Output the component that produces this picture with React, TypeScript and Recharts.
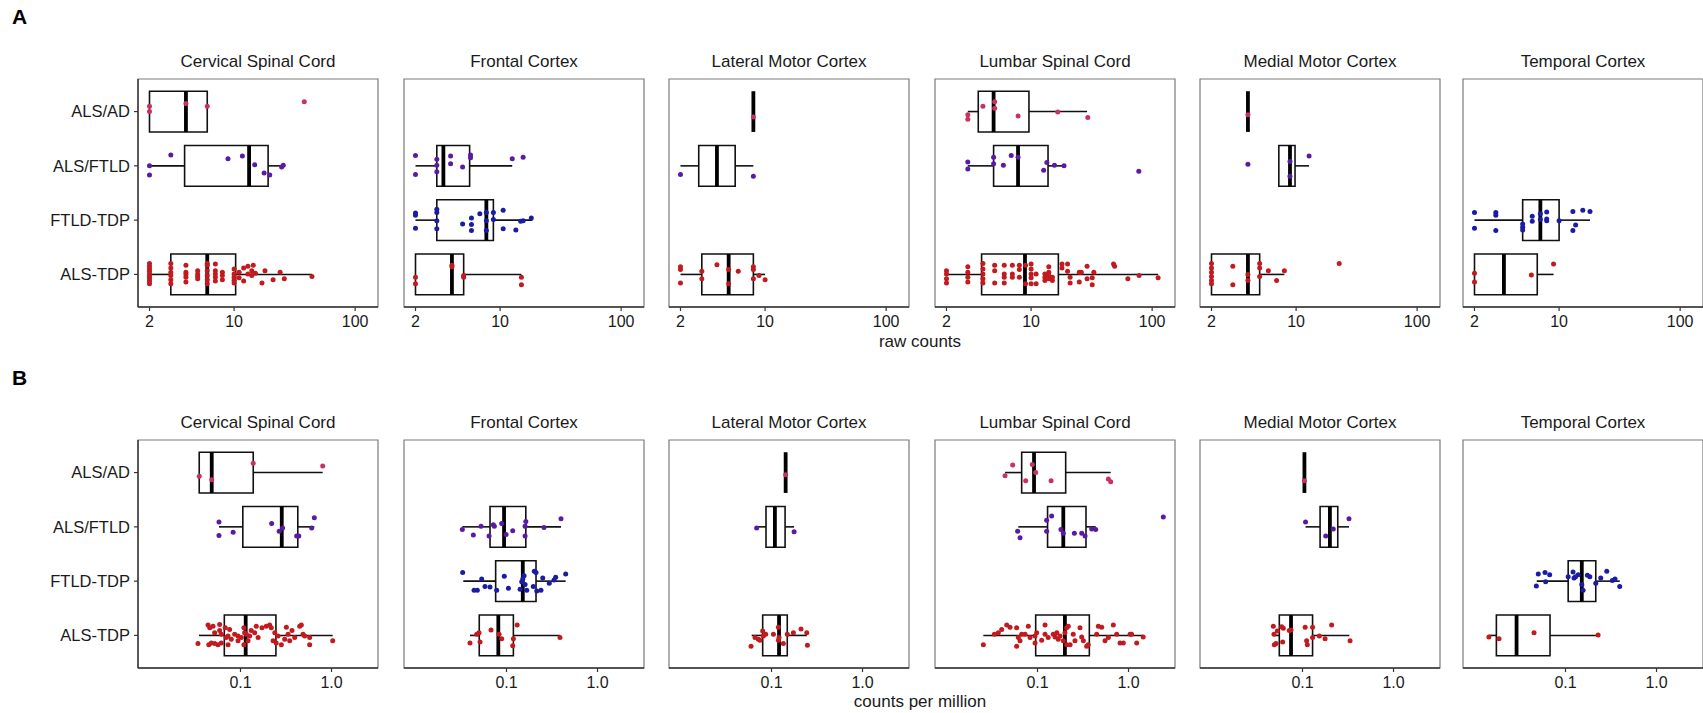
import React from 'react';
import { ComposedChart, XAxis, YAxis, Scatter, ReferenceArea, ReferenceLine } from 'recharts';

// ---------- categories / labels ----------
const GROUPS = ['ALS/AD', 'ALS/FTLD', 'FTLD-TDP', 'ALS-TDP'];
const GROUP_POS = [4, 3, 2, 1];
const GROUP_COLORS = ['#C9325E', '#5A1AA6', '#1A1CA3', '#C21A1E'];
const REGIONS = ['Cervical Spinal Cord', 'Frontal Cortex', 'Lateral Motor Cortex', 'Lumbar Spinal Cord', 'Medial Motor Cortex', 'Temporal Cortex'];
const RAW_TICKS = [2, 10, 100];
const CPM_TICKS = [0.1, 1];
const RAW_DOMAIN: [number, number] = [1.607, 154.5];
const CPM_DOMAIN: [number, number] = [0.00748, 3.24];
const Y_DOMAIN: [number, number] = [0.4, 4.6];

type Box = [number, number, number, number, number] | null; // [whiskerLo, q1, median, q3, whiskerHi]
type Pts = [number, number][]; // [value, vertical jitter]

// ---------- raw counts ----------
const RAW_CERVICAL_BOXES: Box[] = [[2, 2, 4, 6, 6], [2, 3.9, 13.3, 19.1, 25], null, [2, 3, 6, 10.3, 44]];
const RAW_CERVICAL_POINTS: Pts[] = [
  [[2, 0.1], [2, 0], [4, 0.15], [6, 0.1], [38, 0.18]],
  [[2, 0], [2, -0.17], [3, 0.2], [8.9, 0.13], [11.7, 0.18], [14.8, 0.02], [17.7, -0.13], [19.7, -0.17], [24.7, -0.02], [25.5, 0.01]],
  [],
  [[2, 0.2], [2, 0.15], [2, 0.1], [2, 0.06], [2, 0.01], [2, -0.04], [2, -0.08], [2, -0.12], [2, -0.17],
   [3, 0.2], [3, 0.12], [3, 0.04], [3, -0.02], [3, -0.1], [3, -0.17],
   [4, 0.17], [4, 0.04], [4, 0], [4, -0.05], [4, -0.14],
   [5, 0.07], [5, 0.01], [5, -0.04], [5, -0.08],
   [6, 0.2], [6, 0.17], [6, 0.07], [6, -0.02], [6, -0.1], [6, -0.17],
   [7, 0.19], [7, 0.07], [7, 0.01], [7, -0.05], [7, -0.12],
   [8, 0.04], [8, -0.02], [8, -0.1],
   [10, 0.1], [10, 0.01], [10, -0.05], [10, -0.11], [10, -0.16],
   [11, 0.04], [11, -0.06], [12, 0.12], [12, -0.12], [13, 0.15], [13, 0.01], [14, 0.07], [14, -0.02], [14.4, 0.17],
   [15, 0.02], [17, -0.16], [18, 0.07], [21, -0.1], [24, 0.04], [26, -0.08], [44, -0.04]],
];

const RAW_FRONTAL_BOXES: Box[] = [null, [2, 3, 3.4, 5.6, 12.6], [2, 3, 7.7, 8.8, 18.5], [2, 2, 4, 5, 15]];
const RAW_FRONTAL_POINTS: Pts[] = [
  [],
  [[2, 0.19], [2, -0.16], [3, 0.12], [3, 0.01], [3, -0.11], [3.9, 0.18], [3.9, 0.04], [4.9, -0.02], [5.7, 0.2], [5.7, 0.15], [12.6, 0.13], [15.5, 0.16]],
  [[2, 0.13], [2, 0.09], [2, -0.15], [3, 0.2], [3, 0.14], [3, -0.01], [3, -0.16], [4.9, -0.07], [5.8, 0.04], [5.8, -0.08], [5.8, -0.19],
   [6.8, 0.12], [7.7, 0.14], [7.7, -0.01], [7.7, -0.19], [8.8, 0.14], [8.8, 0.01], [10.6, 0.18], [10.6, -0.16], [13.5, -0.18],
   [14.8, -0.02], [15.5, -0.01], [18.1, 0.04]],
  [[2, -0.05], [2, -0.17], [4, 0.17], [4, 0.14], [5, -0.02], [5, -0.05], [15, -0.05], [15, -0.19]],
];

const RAW_LATERAL_BOXES: Box[] = [[8, 8, 8, 8, 8], [2, 2.83, 4, 5.66, 8], null, [2, 3, 5, 8, 10]];
const RAW_LATERAL_POINTS: Pts[] = [
  [[8, -0.1]],
  [[2, -0.16], [8, -0.19]],
  [],
  [[2, 0.14], [2, 0.09], [2, -0.16], [3, 0.06], [3, -0.08], [4, 0.18], [5, 0.09], [5, -0.17], [6, 0.06], [8, 0.14], [8, 0.09], [8, -0.08], [8.9, -0.02], [10, -0.1]],
];

const RAW_LUMBAR_BOXES: Box[] = [[3, 3.66, 4.9, 9.6, 29], [3, 4.9, 7.8, 13.8, 18.7], null, [2, 3.9, 8.9, 16.8, 112]];
const RAW_LUMBAR_POINTS: Pts[] = [
  [[3, -0.06], [3, -0.14], [4, 0.1], [5, 0.18], [5, 0.06], [7.8, -0.08], [16.6, -0.01], [29.4, -0.11]],
  [[3, 0.07], [3, -0.06], [4.9, 0.16], [4.9, 0.04], [5.9, 0.01], [6.85, 0.19], [7.8, 0.16], [12.7, -0.08], [13.5, 0.06], [15.6, 0.01], [18.7, 0], [77.6, -0.1]],
  [],
  [[2, 0.07], [2, 0.01], [2, -0.08], [2, -0.16], [3, 0.14], [3, 0.04], [3, -0.05], [3, -0.14],
   [4, 0.2], [4, 0.1], [4, 0.01], [4, -0.08], [4, -0.16], [5, 0.17], [5, 0.07], [5, -0.16],
   [6, 0.17], [6, 0.01], [6, -0.05], [6, -0.16], [7, 0.17], [7, 0.01], [7, -0.05], [8, 0.17], [8, 0.09], [8, -0.05],
   [9, 0.17], [9, -0.17], [10, 0.19], [10, 0.1], [10, 0.01], [10, -0.06], [10, -0.17], [11, 0.01], [11, -0.17],
   [13, 0.01], [13, -0.05], [13, -0.11], [14, 0.14], [14, 0.04], [14, -0.02], [14, -0.08], [15, -0.05], [15, -0.11],
   [18, 0.19], [18, 0.12], [20, 0.19], [20, 0.06], [21, -0.05], [21, -0.16], [25, 0.04], [25, -0.14], [26, 0.04],
   [29, 0.15], [29, -0.08], [32, -0.06], [32, -0.19], [33, 0.04], [48, 0.19], [49, 0.15], [63, -0.08], [78, -0.02], [112, -0.06]],
];

const RAW_MEDIAL_BOXES: Box[] = [[4, 4, 4, 4, 4], [7.2, 7.2, 8.9, 9.8, 12.8], null, [2, 2, 4, 5, 8]];
const RAW_MEDIAL_POINTS: Pts[] = [
  [[4, -0.06]],
  [[4, 0.03], [8.9, 0.08], [8.9, -0.19], [12.8, 0.18]],
  [],
  [[2, 0.2], [2, 0.12], [2, 0.04], [2, -0.04], [2, -0.11], [2, -0.17], [3, 0.15], [3, -0.19], [4, 0], [4, -0.11],
   [5, 0.2], [5, 0.12], [5, -0.04], [5.9, 0.07], [6.9, -0.11], [8, 0.07], [22.7, 0.2]],
];

const RAW_TEMPORAL_BOXES: Box[] = [null, null, [2, 5, 7, 10, 18], [2, 2, 3.5, 6.6, 9]];
const RAW_TEMPORAL_POINTS: Pts[] = [
  [],
  [],
  [[2, 0.14], [2, -0.15], [3, 0.14], [3, 0.09], [3, -0.19], [5, -0.07], [5, -0.13], [5, -0.18], [6, 0.07], [6, -0.02],
   [7, 0.12], [7, 0.01], [7.9, 0.15], [7.9, 0.02], [7.9, -0.01], [10, -0.01], [13, 0.16], [13, -0.19], [13.7, -0.09], [15.7, 0.18], [18, 0.16]],
  [[2, 0.02], [2, -0.14], [5.9, -0.01], [9, 0.19]],
];

// ---------- counts per million ----------
const CPM_CERVICAL_BOXES: Box[] = [[0.0352, 0.0352, 0.0483, 0.138, 0.8], [0.058, 0.106, 0.284, 0.426, 0.647], null, [0.035, 0.0664, 0.114, 0.245, 1.03]];
const CPM_CERVICAL_POINTS: Pts[] = [
  [[0.0352, -0.07], [0.0483, -0.13], [0.138, 0.17], [0.8, 0.12]],
  [[0.058, 0.09], [0.058, -0.16], [0.083, -0.1], [0.22, 0.06], [0.266, -0.08], [0.29, -0.02], [0.414, -0.17], [0.437, -0.17], [0.605, -0.02], [0.647, 0.17]],
  [],
  [[0.0341, -0.15], [0.044, 0.19], [0.0459, 0.14], [0.0499, 0.17], [0.0448, -0.17], [0.0478, -0.14], [0.0566, -0.17], [0.059, 0.09],
   [0.052, 0.05], [0.0615, 0.02], [0.068, 0.14], [0.0698, -0.04], [0.073, -0.01], [0.076, 0.11], [0.0792, -0.07], [0.0863, 0.02],
   [0.094, -0.01], [0.102, -0.04], [0.109, 0.14], [0.111, 0.05], [0.116, 0.02], [0.121, -0.1], [0.109, -0.17], [0.126, -0.01],
   [0.131, 0.09], [0.143, 0.05], [0.149, 0.17], [0.156, -0.04], [0.172, 0.14], [0.192, 0.17], [0.209, 0.19], [0.218, 0.14],
   [0.238, 0.05], [0.228, -0.1], [0.247, -0.14], [0.258, -0.01], [0.281, -0.17], [0.306, -0.07], [0.319, 0.15], [0.333, 0.02],
   [0.347, -0.1], [0.368, 0.09], [0.394, -0.04], [0.447, 0.17], [0.466, 0.19], [0.486, 0.02], [0.507, -0.01], [0.575, -0.04],
   [0.575, -0.17], [1.03, -0.1], [0.073, -0.17], [0.094, -0.1], [0.0615, -0.14], [0.052, -0.15], [0.059, 0.2]],
];

const CPM_FRONTAL_BOXES: Box[] = [null, [0.0327, 0.0659, 0.094, 0.163, 0.397], [0.0335, 0.076, 0.151, 0.211, 0.447], [0.0397, 0.0502, 0.0813, 0.119, 0.387]];
const CPM_FRONTAL_POINTS: Pts[] = [
  [],
  [[0.0327, -0.05], [0.0432, -0.15], [0.0525, 0.01], [0.0643, -0.17], [0.0716, 0.04], [0.0735, 0.01], [0.0885, 0.06], [0.0989, -0.14],
   [0.117, -0.07], [0.16, 0.01], [0.163, 0.1], [0.16, -0.17], [0.258, -0.01], [0.397, 0.15]],
  [[0.033, 0.16], [0.0534, 0.04], [0.044, -0.17], [0.0478, -0.17], [0.058, -0.1], [0.0659, -0.11], [0.078, -0.17], [0.0946, 0.09],
   [0.105, -0.13], [0.141, -0.15], [0.147, -0.01], [0.151, 0.04], [0.156, 0.1], [0.16, -0.06], [0.167, -0.17], [0.197, -0.1],
   [0.202, 0.18], [0.211, 0.16], [0.215, -0.18], [0.239, -0.17], [0.25, 0.06], [0.295, -0.04], [0.333, 0.02], [0.347, 0.07], [0.447, 0.13]],
  [[0.0397, -0.14], [0.0471, 0.02], [0.0499, 0.05], [0.0512, -0.12], [0.0676, 0.1], [0.0828, 0.02], [0.0885, -0.06], [0.119, -0.06],
   [0.117, -0.19], [0.131, 0.19], [0.387, -0.04]],
];

const CPM_LATERAL_BOXES: Box[] = [[0.143, 0.143, 0.143, 0.143, 0.143], [0.0687, 0.087, 0.109, 0.141, 0.177], null, [0.0606, 0.08, 0.121, 0.149, 0.244]];
const CPM_LATERAL_POINTS: Pts[] = [
  [[0.143, -0.04]],
  [[0.0687, -0.02], [0.177, -0.09]],
  [],
  [[0.0596, -0.2], [0.0659, -0.04], [0.0716, -0.07], [0.0748, -0.09], [0.08, 0.08], [0.0813, -0.01], [0.0863, 0.02], [0.105, 0.02],
   [0.119, 0.15], [0.121, -0.04], [0.119, -0.09], [0.135, -0.15], [0.149, 0.02], [0.174, 0.05], [0.211, 0.12], [0.244, 0.05], [0.248, -0.18]],
];

const CPM_LUMBAR_BOXES: Box[] = [[0.044, 0.067, 0.0916, 0.204, 0.637], [0.0615, 0.129, 0.192, 0.341, 0.436], null, [0.0254, 0.0955, 0.2, 0.371, 1.45]];
const CPM_LUMBAR_POINTS: Pts[] = [
  [[0.044, -0.06], [0.0534, 0.14], [0.0742, -0.15], [0.0877, 0.15], [0.0955, 0], [0.141, -0.15], [0.6, -0.12], [0.637, -0.17]],
  [[0.0605, -0.08], [0.0643, -0.2], [0.126, 0.12], [0.143, 0.2], [0.126, -0.08], [0.181, -0.05], [0.192, -0.12], [0.254, -0.12],
   [0.306, -0.12], [0.333, -0.17], [0.394, -0.04], [0.436, -0.05], [2.41, 0.18]],
  [],
  [[0.0254, -0.17], [0.0336, 0.02], [0.0371, 0.05], [0.0404, 0.11], [0.0459, 0.19], [0.0499, 0.15], [0.059, 0.14], [0.0615, -0.04],
   [0.0643, -0.1], [0.059, -0.2], [0.067, 0.02], [0.0792, 0.17], [0.0828, -0.04], [0.094, -0.14], [0.098, 0.05], [0.121, 0.19],
   [0.121, 0.02], [0.111, -0.09], [0.149, 0.02], [0.156, -0.03], [0.163, 0.05], [0.169, -0.07], [0.177, -0.01], [0.192, -0.1],
   [0.2, 0.05], [0.209, 0.14], [0.218, 0.17], [0.228, -0.17], [0.247, 0.02], [0.258, -0.1], [0.293, 0.14], [0.306, -0.03],
   [0.319, -0.1], [0.347, -0.2], [0.361, -0.17], [0.447, 0.02], [0.466, 0.17], [0.507, 0.15], [0.552, -0.1], [0.6, -0.04],
   [0.681, 0.19], [0.741, 0.02], [0.807, -0.14], [0.877, -0.14], [1.04, 0.02], [1.08, 0.02], [1.23, -0.14], [1.45, -0.03],
   [0.209, -0.17], [0.131, -0.04], [0.073, 0.02], [0.094, -0.01]],
];

const CPM_MEDIAL_BOXES: Box[] = [[0.105, 0.105, 0.105, 0.105, 0.105], [0.108, 0.156, 0.2, 0.244, 0.324], null, [0.0478, 0.0556, 0.0748, 0.129, 0.327]];
const CPM_MEDIAL_POINTS: Pts[] = [
  [[0.105, -0.15]],
  [[0.108, 0.09], [0.18, -0.17], [0.218, -0.04], [0.324, 0.15]],
  [],
  [[0.0478, 0.17], [0.0486, 0.02], [0.049, -0.17], [0.0512, -0.15], [0.0529, 0.08], [0.059, 0.16], [0.0605, -0.12], [0.0615, 0.13],
   [0.0716, 0.09], [0.0748, 0.1], [0.107, 0.15], [0.111, -0.1], [0.113, -0.17], [0.129, 0.15], [0.129, -0.04], [0.153, -0.01],
   [0.177, -0.06], [0.209, 0.19], [0.333, -0.1]],
];

const CPM_TEMPORAL_BOXES: Box[] = [null, null, [0.0483, 0.107, 0.151, 0.215, 0.394], [0.0144, 0.0174, 0.029, 0.0676, 0.228]];
const CPM_TEMPORAL_POINTS: Pts[] = [
  [],
  [],
  [[0.0478, -0.09], [0.0502, 0.13], [0.0596, 0.16], [0.0605, -0.01], [0.067, 0.12], [0.107, 0.08], [0.121, 0.17], [0.124, 0.06],
   [0.129, 0.08], [0.138, 0.12], [0.151, -0.06], [0.156, -0.17], [0.174, 0.11], [0.185, 0.08], [0.215, -0.04], [0.244, 0.06],
   [0.284, 0.18], [0.327, 0.01], [0.35, 0.04], [0.394, -0.1]],
  [[0.0144, -0.03], [0.0186, -0.06], [0.0451, 0.05], [0.228, 0.01]],
];

const RAW_BOXES = [RAW_CERVICAL_BOXES, RAW_FRONTAL_BOXES, RAW_LATERAL_BOXES, RAW_LUMBAR_BOXES, RAW_MEDIAL_BOXES, RAW_TEMPORAL_BOXES];
const RAW_POINTS = [RAW_CERVICAL_POINTS, RAW_FRONTAL_POINTS, RAW_LATERAL_POINTS, RAW_LUMBAR_POINTS, RAW_MEDIAL_POINTS, RAW_TEMPORAL_POINTS];
const CPM_BOXES = [CPM_CERVICAL_BOXES, CPM_FRONTAL_BOXES, CPM_LATERAL_BOXES, CPM_LUMBAR_BOXES, CPM_MEDIAL_BOXES, CPM_TEMPORAL_BOXES];
const CPM_POINTS = [CPM_CERVICAL_POINTS, CPM_FRONTAL_POINTS, CPM_LATERAL_POINTS, CPM_LUMBAR_POINTS, CPM_MEDIAL_POINTS, CPM_TEMPORAL_POINTS];

// ---------- layout ----------
const PANEL_LEFTS = [138, 404, 669, 935, 1200, 1463];
const PANEL_W = 240;
const PANEL_H = 227;
const Y_AXIS_W = 138;
const BOX_HALF = 0.375;
const FONT = '"Liberation Sans", Arial, Helvetica, sans-serif';
const TEXT = '#1a1a1a';

const rawFmt = (v: number) => String(v);
const cpmFmt = (v: number) => (v >= 1 ? v.toFixed(1) : String(v));

type FacetProps = {
  left: number; top: number; boxes: Box[]; points: Pts[]; domain: [number, number];
  ticks: number[]; fmt: (v: number) => string; showY: boolean; title: string;
};

function Facet({ left, top, boxes, points, domain, ticks, fmt, showY, title }: FacetProps) {
  const yW = showY ? Y_AXIS_W : 0;
  return (
    <>
      <div style={{ position: 'absolute', left, top: top - 27, width: PANEL_W, textAlign: 'center', fontFamily: FONT, fontSize: 17, lineHeight: '20px', color: TEXT, whiteSpace: 'nowrap' }}>
        {title}
      </div>
      <div style={{ position: 'absolute', left: left - yW - 1, top: top - 1 }}>
        <ComposedChart width={yW + PANEL_W + 2} height={PANEL_H + 2 + 34} margin={{ top: 1, right: 1, bottom: 0, left: 1 }}>
          {/* panel border */}
          <ReferenceArea x1={domain[0]} x2={domain[1]} y1={Y_DOMAIN[0]} y2={Y_DOMAIN[1]} fill="#ffffff" fillOpacity={0}
            stroke="#7a7a7a" strokeWidth={1.2} ifOverflow="visible" />
          <XAxis type="number" dataKey="x" scale="log" domain={domain} allowDataOverflow ticks={ticks} interval={0}
            tickFormatter={fmt} height={34} tickSize={4} tickMargin={5}
            tick={{ fontSize: 16, fill: TEXT, fontFamily: FONT }}
            axisLine={{ stroke: '#333', strokeWidth: 1.4 }} tickLine={{ stroke: '#333', strokeWidth: 1.2 }} />
          <YAxis type="number" dataKey="y" domain={Y_DOMAIN} allowDataOverflow ticks={[1, 2, 3, 4]} interval={0}
            width={yW} tickSize={showY ? 4 : 0} tickMargin={4}
            tickFormatter={(v: number) => GROUPS[GROUP_POS.indexOf(v)]}
            tick={showY ? { fontSize: 16.5, fill: TEXT, fontFamily: FONT } : false}
            axisLine={showY ? { stroke: '#333', strokeWidth: 1.4 } : false}
            tickLine={showY ? { stroke: '#333', strokeWidth: 1.2 } : false} />
          {boxes.map((b, gi) => {
            if (!b) return null;
            const p = GROUP_POS[gi];
            const [lo, q1, med, q3, hi] = b;
            return (
              <React.Fragment key={'b' + gi}>
                {lo < q1 && (
                  <ReferenceLine segment={[{ x: lo, y: p }, { x: q1, y: p }]} stroke="#111" strokeWidth={1.6} ifOverflow="visible" />
                )}
                {hi > q3 && (
                  <ReferenceLine segment={[{ x: q3, y: p }, { x: hi, y: p }]} stroke="#111" strokeWidth={1.6} ifOverflow="visible" />
                )}
                {q3 > q1 && (
                  <ReferenceArea x1={q1} x2={q3} y1={p - BOX_HALF} y2={p + BOX_HALF} fill="#ffffff" fillOpacity={0}
                    stroke="#111" strokeWidth={1.6} ifOverflow="visible" />
                )}
                <ReferenceLine segment={[{ x: med, y: p - BOX_HALF }, { x: med, y: p + BOX_HALF }]} stroke="#000" strokeWidth={3.8} ifOverflow="visible" />
              </React.Fragment>
            );
          })}
          {points.map((pts, gi) => (
            pts.length ? (
              <Scatter key={'s' + gi} data={pts.map(([v, dy]) => ({ x: v, y: GROUP_POS[gi] + dy }))} isAnimationActive={false}
                fill={GROUP_COLORS[gi]}
                shape={(sp: any) => <circle cx={sp.cx} cy={sp.cy} r={2.5} fill={GROUP_COLORS[gi]} />} />
            ) : null
          ))}
        </ComposedChart>
      </div>
    </>
  );
}

export default function App() {
  const rowA = 79;
  const rowB = 440;
  return (
    <div style={{ position: 'absolute', left: 0, top: 0, width: 1703, height: 713, overflow: 'hidden', background: '#fff', fontFamily: FONT }}>
      <div style={{ position: 'absolute', left: 12, top: 5, fontSize: 21, fontWeight: 'bold', color: '#000', lineHeight: '24px' }}>A</div>
      <div style={{ position: 'absolute', left: 12, top: 366, fontSize: 21, fontWeight: 'bold', color: '#000', lineHeight: '24px' }}>B</div>
      {REGIONS.map((r, i) => (
        <Facet key={'a' + i} left={PANEL_LEFTS[i]} top={rowA} boxes={RAW_BOXES[i]} points={RAW_POINTS[i]} domain={RAW_DOMAIN}
          ticks={RAW_TICKS} fmt={rawFmt} showY={i === 0} title={r} />
      ))}
      {REGIONS.map((r, i) => (
        <Facet key={'b' + i} left={PANEL_LEFTS[i]} top={rowB} boxes={CPM_BOXES[i]} points={CPM_POINTS[i]} domain={CPM_DOMAIN}
          ticks={CPM_TICKS} fmt={cpmFmt} showY={i === 0} title={r} />
      ))}
      <div style={{ position: 'absolute', left: 820, width: 200, top: 332, textAlign: 'center', fontSize: 17, lineHeight: '20px', color: TEXT }}>raw counts</div>
      <div style={{ position: 'absolute', left: 820, width: 200, top: 692, textAlign: 'center', fontSize: 17, lineHeight: '20px', color: TEXT }}>counts per million</div>
    </div>
  );
}
